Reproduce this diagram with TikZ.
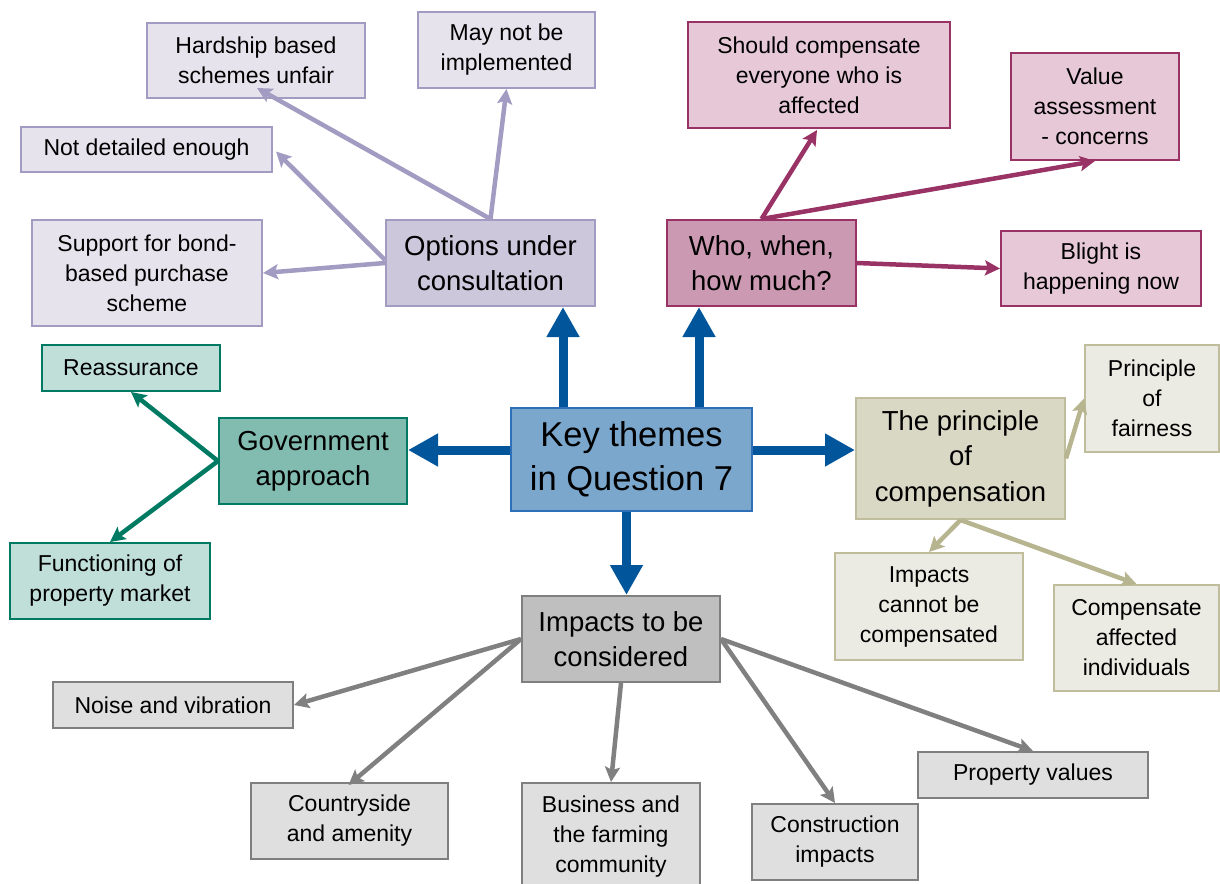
\documentclass[tikz,border=0pt]{standalone}
\usepackage{fontspec}
\setmainfont{Liberation Sans}
\usetikzlibrary{arrows.meta,calc}
\definecolor{optB}{HTML}{A29BC2}\definecolor{optM}{HTML}{CCC7DB}\definecolor{optS}{HTML}{E6E3EC}
\definecolor{whoB}{HTML}{993366}\definecolor{whoM}{HTML}{CC99B2}\definecolor{whoS}{HTML}{E6C8D6}
\definecolor{govB}{HTML}{007A62}\definecolor{govM}{HTML}{82BCB1}\definecolor{govS}{HTML}{C1DFD9}
\definecolor{keyB}{HTML}{2F6FB7}\definecolor{keyM}{HTML}{7BA7CD}\definecolor{bluA}{HTML}{00559B}
\definecolor{prB}{HTML}{BFBD9C}\definecolor{prM}{HTML}{D9D8C5}\definecolor{prS}{HTML}{ECEBE3}\definecolor{prA}{HTML}{B7B590}
\definecolor{imB}{HTML}{7F7F7F}\definecolor{imM}{HTML}{BFBFBF}\definecolor{imS}{HTML}{DFDFDF}\definecolor{imA}{HTML}{808080}
\begin{document}
\begin{tikzpicture}[x=1pt,y=-1pt,
  bx/.style={draw, line width=2pt, align=center, inner sep=0pt, text=black},
  small/.style={bx, font=\fontsize{23}{30}\selectfont},
  mid/.style={bx, font=\fontsize{27.5}{35.5}\selectfont},
  carr/.style={line width=4.5pt, -{Stealth[length=15pt,width=15pt,inset=3pt]}},
  barr/.style={line width=9pt, draw=bluA, -{Triangle[length=30pt,width=31pt]}},
  wh/.style 2 args={minimum width=#1pt, minimum height=#2pt}]
\useasboundingbox (0,0) rectangle (1220,883);
% options family
\node[mid, draw=optB, fill=optM, wh={209}{86}] (opt) at (490.5,263) {Options under\\consultation};
\node[small, draw=optB, fill=optS, wh={218}{75}] (hard) at (256,60.5) {Hardship based\\schemes unfair};
\node[small, draw=optB, fill=optS, wh={177}{76}] (may) at (506.5,50) {May not be\\implemented};
\node[small, draw=optB, fill=optS, wh={251}{45}] (notd) at (146.5,149.5) {Not detailed enough};
\node[small, draw=optB, fill=optS, wh={230}{106}] (supp) at (147,273) {Support for bond-\\based purchase\\scheme};
% who family
\node[mid, draw=whoB, fill=whoM, wh={189}{86}] (who) at (761.5,263) {Who, when,\\how much?};
\node[small, draw=whoB, fill=whoS, wh={262}{106}] (should) at (819,75) {Should compensate\\everyone who is\\affected};
\node[small, draw=whoB, fill=whoS, wh={168}{107}] (value) at (1095,106.5) {Value\\assessment\\- concerns};
\node[small, draw=whoB, fill=whoS, wh={200}{75}] (blight) at (1101,268.5) {Blight is\\happening now};
% government family
\node[mid, draw=govB, fill=govM, wh={188}{86}] (gov) at (313,461) {Government\\approach};
\node[small, draw=govB, fill=govS, wh={178}{46}] (reass) at (131,368) {Reassurance};
\node[small, draw=govB, fill=govS, wh={200}{76}] (func) at (110,581) {Functioning of\\property market};
% key
\node[bx, draw=keyB, fill=keyM, wh={241}{103}, font=\fontsize{34.5}{44}\selectfont] (key) at (631.5,459.5) {Key themes\\in Question 7};
% principle family
\node[mid, draw=prB, fill=prM, wh={209}{121}] (prin) at (960.5,458.5) {The principle\\of\\compensation};
\node[small, draw=prB, fill=prS, wh={134}{107}] (fair) at (1152,398.5) {Principle\\of\\fairness};
\node[small, draw=prB, fill=prS, wh={188}{107}] (cannot) at (929,606.5) {Impacts\\cannot be\\compensated};
\node[small, draw=prB, fill=prS, wh={165}{106}] (compaff) at (1136.5,638) {Compensate\\affected\\individuals};
% impacts family
\node[mid, draw=imB, fill=imM, wh={198}{86}] (imp) at (621,639) {Impacts to be\\considered};
\node[small, draw=imB, fill=imS, wh={240}{46}] (noise) at (173,705) {Noise and vibration};
\node[small, draw=imB, fill=imS, wh={197}{76}] (country) at (349.5,821) {Countryside\\and amenity};
\node[small, draw=imB, fill=imS, wh={178}{108}] (business) at (611,837) {Business and\\the farming\\community};
\node[small, draw=imB, fill=imS, wh={166}{76}] (constr) at (835,842) {Construction\\impacts};
\node[small, draw=imB, fill=imS, wh={230}{46}] (prop) at (1033,775) {Property values};
% connectors
\draw[carr, draw=optB] (opt.north) -- ($(hard.south)+(1,-11)$);
\draw[carr, draw=optB] (opt.north) -- (may.south);
\draw[carr, draw=optB] ($(opt.west)+(0,-3)$) -- ($(notd.east)+(3,2)$);
\draw[carr, draw=optB] (opt.west) -- (supp.east);
\draw[carr, draw=whoB] (who.north) -- ($(should.south)+(-2,1)$);
\draw[carr, draw=whoB] (who.north) -- (value.south);
\draw[carr, draw=whoB] (who.east) -- (blight.west);
\draw[carr, draw=govB] (gov.west) -- (reass.south);
\draw[carr, draw=govB] (gov.west) -- (func.north);
\draw[carr, draw=prA] (prin.east) -- (fair.west);
\draw[carr, draw=prA] (prin.south) -- (cannot.north);
\draw[carr, draw=prA] (prin.south) -- (compaff.north);
\draw[carr, draw=imA] (imp.west) -- (noise.east);
\draw[carr, draw=imA] (imp.west) -- ($(country.north)+(-1,3)$);
\draw[carr, draw=imA] (imp.south) -- (business.north);
\draw[carr, draw=imA] (imp.east) -- (constr.north);
\draw[carr, draw=imA] (imp.east) -- (prop.north);
% blue arrows
\draw[barr] ([xshift=-68.5pt]key.north) -- ([xshift=72.5pt]opt.south);
\draw[barr] ([xshift=67.5pt]key.north) -- ([xshift=-62.5pt]who.south);
\draw[barr] ([yshift=9.5pt]key.west) -- ([yshift=11pt]gov.east);
\draw[barr] ([yshift=9.5pt]key.east) -- ([yshift=8.5pt]prin.west);
\draw[barr] ([xshift=-5pt]key.south) -- ([xshift=5.5pt]imp.north);
\end{tikzpicture}
\end{document}
